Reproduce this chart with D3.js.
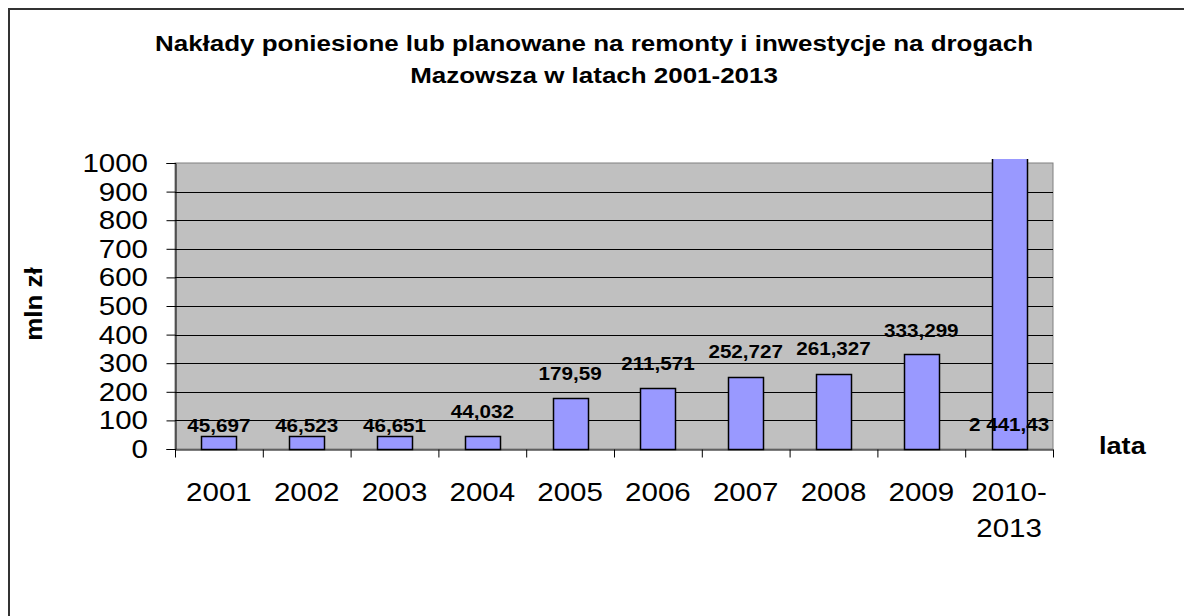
<!DOCTYPE html>
<html>
<head>
<meta charset="utf-8">
<script src="https://cdn.jsdelivr.net/npm/d3@7"></script>
<style>
  body { margin: 0; background: #fff; overflow: hidden; }
  svg { display: block; }
  text { font-family: "Liberation Sans", Arial, sans-serif; fill: #000; }
</style>
</head>
<body>
<svg id="chart" width="1184" height="616"></svg>
<script>
// categories and values (mln zł)
const categories = ["2001", "2002", "2003", "2004", "2005", "2006", "2007", "2008", "2009", "2010-\n2013"];
const values = [45.697, 46.523, 46.651, 44.032, 179.59, 211.571, 252.727, 261.327, 333.299, 2441.43];
const valueLabels = ["45,697", "46,523", "46,651", "44,032", "179,59", "211,571", "252,727", "261,327", "333,299", "2 441,43"];
const yTicks = [0, 100, 200, 300, 400, 500, 600, 700, 800, 900, 1000];
const titleLines = ["Nakłady poniesione lub planowane na remonty i inwestycje na drogach", "Mazowsza w latach 2001-2013"];

// label lift above the bar top (excel nudged the first three down)
const labelLift = [4, 4, 4, 18, 18, 18, 19, 19, 17, 18];

const sx = 1.18; // picture is a bit wider than tall
const margin = { top: 163, left: 175, bottom: 167, right: 131 };
const W = 1184, H = 616;

const svg = d3.select("#chart");

// outer frame, only top and left edges are inside the picture
svg.append("path")
  .attr("d", `M9,${H} V9 H${W}`)
  .attr("fill", "none").attr("stroke", "#333").attr("stroke-width", 2);

const x = d3.scaleBand()
  .domain(categories)
  .range([margin.left, W - margin.right])
  .paddingInner(0.6)
  .paddingOuter(0.3);

const y = d3.scaleLinear()
  .domain([0, 1000])
  .range([H - margin.bottom, margin.top]);

const x0 = margin.left, x1 = W - margin.right;

// plot area
svg.append("rect")
  .attr("x", x0).attr("y", y(1000))
  .attr("width", x1 - x0).attr("height", y(0) - y(1000))
  .attr("fill", "#c0c0c0").attr("stroke", "#808080");

// gridlines
svg.append("g")
  .selectAll("line")
  .data(yTicks.slice(1, -1))
  .join("line")
  .attr("x1", x0).attr("x2", x1)
  .attr("y1", d => Math.round(y(d)) + 0.5).attr("y2", d => Math.round(y(d)) + 0.5)
  .attr("stroke", "#000");

// bars, clipped a little above the plot top
svg.append("clipPath").attr("id", "clip")
  .append("rect")
  .attr("x", 0).attr("y", y(1000) - 4)
  .attr("width", W).attr("height", H);

svg.append("g")
  .attr("clip-path", "url(#clip)")
  .selectAll("rect")
  .data(values)
  .join("rect")
  .attr("x", (d, i) => Math.round(x(categories[i])) + 0.5)
  .attr("y", d => Math.round(y(d)) + 0.5)
  .attr("width", Math.round(x.bandwidth()))
  .attr("height", d => Math.round(y(0)) - Math.round(y(d)))
  .attr("fill", "#9999ff")
  .attr("stroke", "#000")
  .attr("stroke-width", 1.5);

// axes, labels are drawn separately
const yAxis = d3.axisLeft(y).tickValues(yTicks).tickSize(9).tickFormat("");
svg.append("g")
  .attr("transform", `translate(${x0 + 0.5},0)`)
  .call(yAxis)
  .call(g => g.select(".domain").attr("stroke", "#000"))
  .call(g => g.selectAll(".tick line").attr("stroke", "#000"));

// category boundaries for the x ticks
const xAxis = d3.axisBottom(d3.scaleLinear().domain([0, categories.length]).range([x0, x1]))
  .tickValues(d3.range(categories.length + 1)).tickSize(8).tickSizeOuter(0).tickFormat("");
svg.append("g")
  .attr("transform", `translate(0,${Math.round(y(0)) + 0.5})`)
  .call(xAxis)
  .call(g => g.select(".domain").attr("stroke", "#000"))
  .call(g => g.selectAll(".tick line").attr("stroke", "#000"));

// stretched text helper
function label(g, tx, ty, str, size, weight, anchor) {
  return g.append("text")
    .attr("transform", `translate(${tx},${ty}) scale(${sx},1)`)
    .attr("text-anchor", anchor || "middle")
    .style("font-size", size + "px")
    .style("font-weight", weight || "normal")
    .text(str);
}

// y tick labels
yTicks.forEach(t => {
  label(svg, 148, y(t) + 9, t, 25, "normal", "end");
});

// x tick labels
categories.forEach(c => {
  const cx = x(c) + x.bandwidth() / 2;
  c.split("\n").forEach((line, k) => {
    label(svg, cx, 501 + k * 36, line, 25);
  });
});

// value labels
values.forEach((v, i) => {
  const cx = x(categories[i]) + x.bandwidth() / 2;
  const top = v > 1000 ? y(0) : y(v);
  label(svg, cx, top - labelLift[i], valueLabels[i], 17.5, "bold");
});

// title
titleLines.forEach((t, k) => {
  label(svg, 594, 51 + k * 32, t, 22, "bold");
});

// axis titles
svg.append("text")
  .attr("transform", "translate(42,304) rotate(-90) scale(1,0.9)")
  .attr("text-anchor", "middle")
  .style("font-size", "26px").style("font-weight", "bold")
  .text("mln zł");

label(svg, 1099, 454, "lata", 23, "bold", "start");
</script>
</body>
</html>
